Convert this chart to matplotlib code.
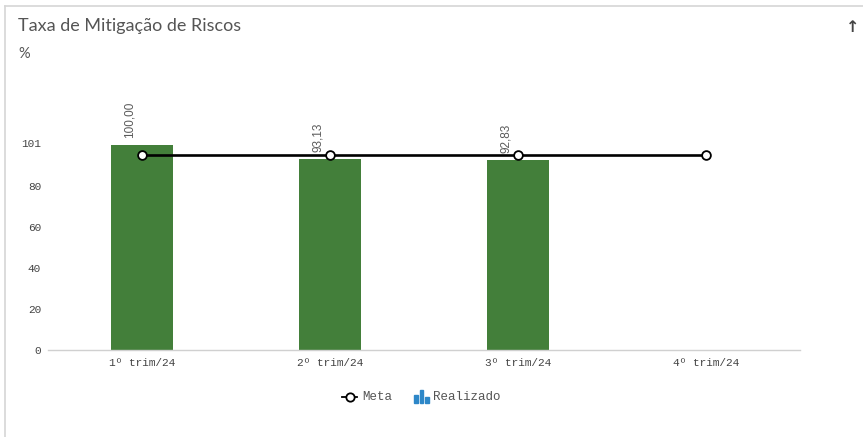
import matplotlib
matplotlib.use('Agg')
import matplotlib.pyplot as plt
from matplotlib.patches import Rectangle
from matplotlib.lines import Line2D
import numpy as np

# Quarterly data
categories = ['1º trim/24', '2º trim/24', '3º trim/24', '4º trim/24']
realizado = [100.00, 93.13, 92.83, None]
meta = [95, 95, 95, 95]
y_ticks = [0, 20, 40, 60, 80, 101]

BAR_COLOR = '#437f3a'
TEXT_GRAY = '#555555'
MONO = ['Liberation Mono', 'DejaVu Sans Mono']

W, H = 863, 437
fig = plt.figure(figsize=(W / 100, H / 100), dpi=100)

# card border (left and top edges only)
fig.add_artist(Line2D([4.5 / W, 4.5 / W], [0, 1 - 6 / H], color='#d6d6d6', lw=1.2))
fig.add_artist(Line2D([4.5 / W, 1], [1 - 6 / H, 1 - 6 / H], color='#d6d6d6', lw=1.2))

fig.text(18 / W, 1 - 26 / H, 'Taxa de Mitigação de Riscos', family='Lato',
         fontsize=13, color=TEXT_GRAY, va='center', ha='left')
fig.text(18 / W, 1 - 54 / H, '%', family='Lato', fontsize=10.5,
         color=TEXT_GRAY, va='center', ha='left')
fig.text(853 / W, 1 - 27 / H, '↑', family='DejaVu Sans', fontsize=11.5,
         fontweight='bold', color='#444444', va='center', ha='center')

ax = fig.add_axes([48 / W, 87 / H, 752 / W, (350 - 143) / H])
x = np.arange(len(categories))

bar_x = [i for i, v in zip(x, realizado) if v is not None]
bar_v = [v for v in realizado if v is not None]
ax.bar(bar_x, bar_v, width=0.335, color=BAR_COLOR, zorder=2)

for i, v in zip(bar_x, bar_v):
    ax.annotate(f'{v:.2f}'.replace('.', ','), (i, v), xytext=(-12, 7),
                textcoords='offset pixels', rotation=90, ha='center',
                va='bottom', fontsize=8.5, family='Liberation Sans',
                color='#5a5a5a', annotation_clip=False)

ax.plot(x, meta, color='black', lw=1.9, marker='o', markersize=6.3,
        markerfacecolor='white', markeredgecolor='black',
        markeredgewidth=1.3, zorder=3, clip_on=False)

ax.set_xlim(-0.5, len(categories) - 0.5)
ax.set_ylim(0, 101)
ax.set_yticks(y_ticks)
ax.set_yticklabels([str(t) for t in y_ticks])
ax.set_xticks(x)
ax.set_xticklabels(categories)
ax.tick_params(axis='both', length=0, labelsize=8, labelcolor='#444444')
ax.tick_params(axis='y', pad=5)
ax.tick_params(axis='x', pad=6)
for lbl in ax.get_xticklabels() + ax.get_yticklabels():
    lbl.set_family(MONO)

for side in ['top', 'right', 'left']:
    ax.spines[side].set_visible(False)
ax.spines['bottom'].set_color('#d0d0d0')
ax.spines['bottom'].set_linewidth(1)
ax.patch.set_alpha(0)

# legend drawn by hand
ly = 1 - 397 / H
fig.add_artist(Line2D([342 / W, 357 / W], [ly, ly], color='black', lw=1.3))
fig.add_artist(Line2D([349.5 / W], [ly], marker='o', markersize=6,
                      markerfacecolor='white', markeredgecolor='black',
                      markeredgewidth=1.3))
fig.text(362 / W, ly, 'Meta', family=MONO, fontsize=9, color='#555555',
         va='center', ha='left')
icon_blue = '#2d87c8'
for bx, bh in [(414, 8), (419.5, 13), (425, 6)]:
    fig.add_artist(Rectangle((bx / W, (437 - 403) / H), 3.5 / W, bh / H,
                             color=icon_blue, transform=fig.transFigure))
fig.text(433 / W, ly, 'Realizado', family=MONO, fontsize=9, color='#555555',
         va='center', ha='left')

fig.savefig('out.png', dpi=100)
